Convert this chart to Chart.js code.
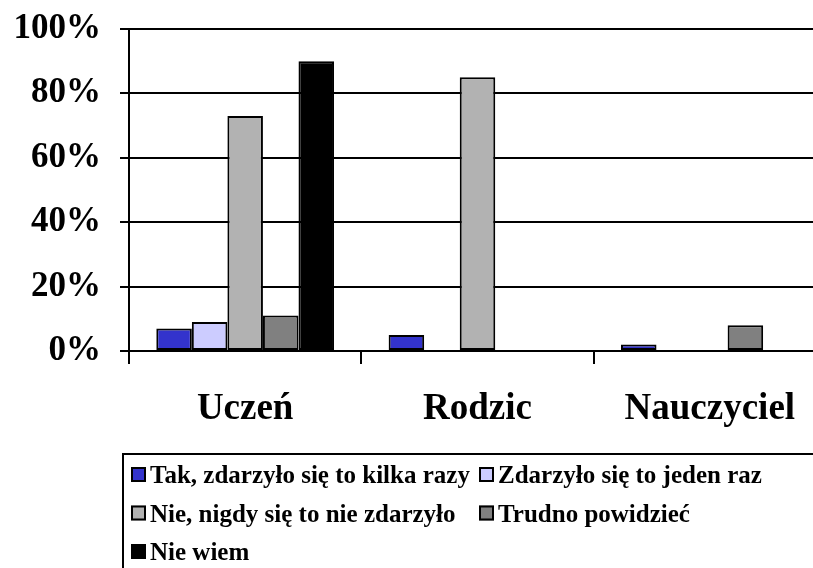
<!DOCTYPE html>
<html>
<head>
<meta charset="utf-8">
<script src="https://cdn.jsdelivr.net/npm/chart.js@4"></script>
<style>
  body { margin: 0; overflow: hidden; background: #fff; }
</style>
</head>
<body>
<canvas id="chart" width="830" height="568"></canvas>
<script>
// categories and series (percent)
const categories = ["Uczeń", "Rodzic", "Nauczyciel"];
const seriesNames = [
    "Tak, zdarzyło się to kilka razy",
    "Zdarzyło się to jeden raz",
    "Nie, nigdy się to nie zdarzyło",
    "Trudno powidzieć",
    "Nie wiem"
];
const kilkaRazy = [7, 5, 2];
const jedenRaz = [9, 0, 0];
const nigdy = [73, 85, 0];
const trudno = [11, 0, 8];
const nieWiem = [90, 0, 0];
const yTicks = [0, 20, 40, 60, 80, 100];

const colors = ["#3333CC", "#CCCCFF", "#B2B2B2", "#808080", "#000000"];
const values = [kilkaRazy, jedenRaz, nigdy, trudno, nieWiem];

// legend drawn by hand, Excel style box
const legendBox = {
    id: "legendBox",
    afterDraw(chart) {
        const ctx = chart.ctx;
        ctx.save();
        ctx.strokeStyle = "#000";
        ctx.lineWidth = 2;
        ctx.strokeRect(123, 454, chart.width + 20, chart.height);

        const cols = [131, 479];
        const rows = [[0, 1], [2, 3], [4]];
        ctx.font = "bold 25px 'Liberation Serif', 'Times New Roman', serif";
        ctx.textBaseline = "alphabetic";
        rows.forEach((row, r) => {
            const top = 467 + r * 38.5;
            row.forEach((idx, c) => {
                const ds = chart.data.datasets[idx];
                const x = cols[c];
                ctx.fillStyle = ds.backgroundColor;
                ctx.fillRect(x, top, 15, 15);
                ctx.lineWidth = 2;
                ctx.strokeStyle = "#000";
                ctx.strokeRect(x + 1, top + 1, 13, 13);
                ctx.fillStyle = "#000";
                ctx.fillText(ds.label, x + 19, top + 16);
            });
        });
        ctx.restore();
    }
};

new Chart(document.getElementById("chart"), {
    type: "bar",
    data: {
        labels: categories,
        datasets: seriesNames.map((name, i) => ({
            label: name,
            data: values[i],
            backgroundColor: colors[i],
            borderColor: "#000",
            borderWidth: 2,
            borderSkipped: false,
            barPercentage: 1,
            categoryPercentage: 0.765
        }))
    },
    options: {
        responsive: false,
        animation: false,
        layout: { padding: { left: 0, top: 29, right: 4, bottom: 0 } },
        plugins: {
            legend: { display: false },
            tooltip: { enabled: false }
        },
        scales: {
            x: {
                afterFit: (scale) => { scale.height = 217; },
                grid: {
                    offset: true,
                    drawOnChartArea: false,
                    color: "#000",
                    lineWidth: 2,
                    tickLength: 13
                },
                border: { display: true, color: "#000", width: 2 },
                ticks: {
                    color: "#000",
                    padding: 23,
                    font: { family: "'Liberation Serif', 'Times New Roman', serif", size: 37, weight: "bold" }
                }
            },
            y: {
                min: 0,
                max: 100,
                afterFit: (scale) => {
                    scale.width = 129;
                    scale.paddingTop = 0;
                    scale.paddingBottom = 0;
                },
                afterBuildTicks: (scale) => { scale.ticks = yTicks.map(v => ({ value: v })); },
                grid: {
                    color: "#000",
                    lineWidth: 2,
                    tickLength: 9
                },
                border: { display: true, color: "#000", width: 2 },
                ticks: {
                    color: "#000",
                    padding: 19,
                    callback: (v) => v + "%",
                    font: { family: "'Liberation Serif', 'Times New Roman', serif", size: 35, weight: "bold" }
                }
            }
        }
    },
    plugins: [legendBox]
});
</script>
</body>
</html>
